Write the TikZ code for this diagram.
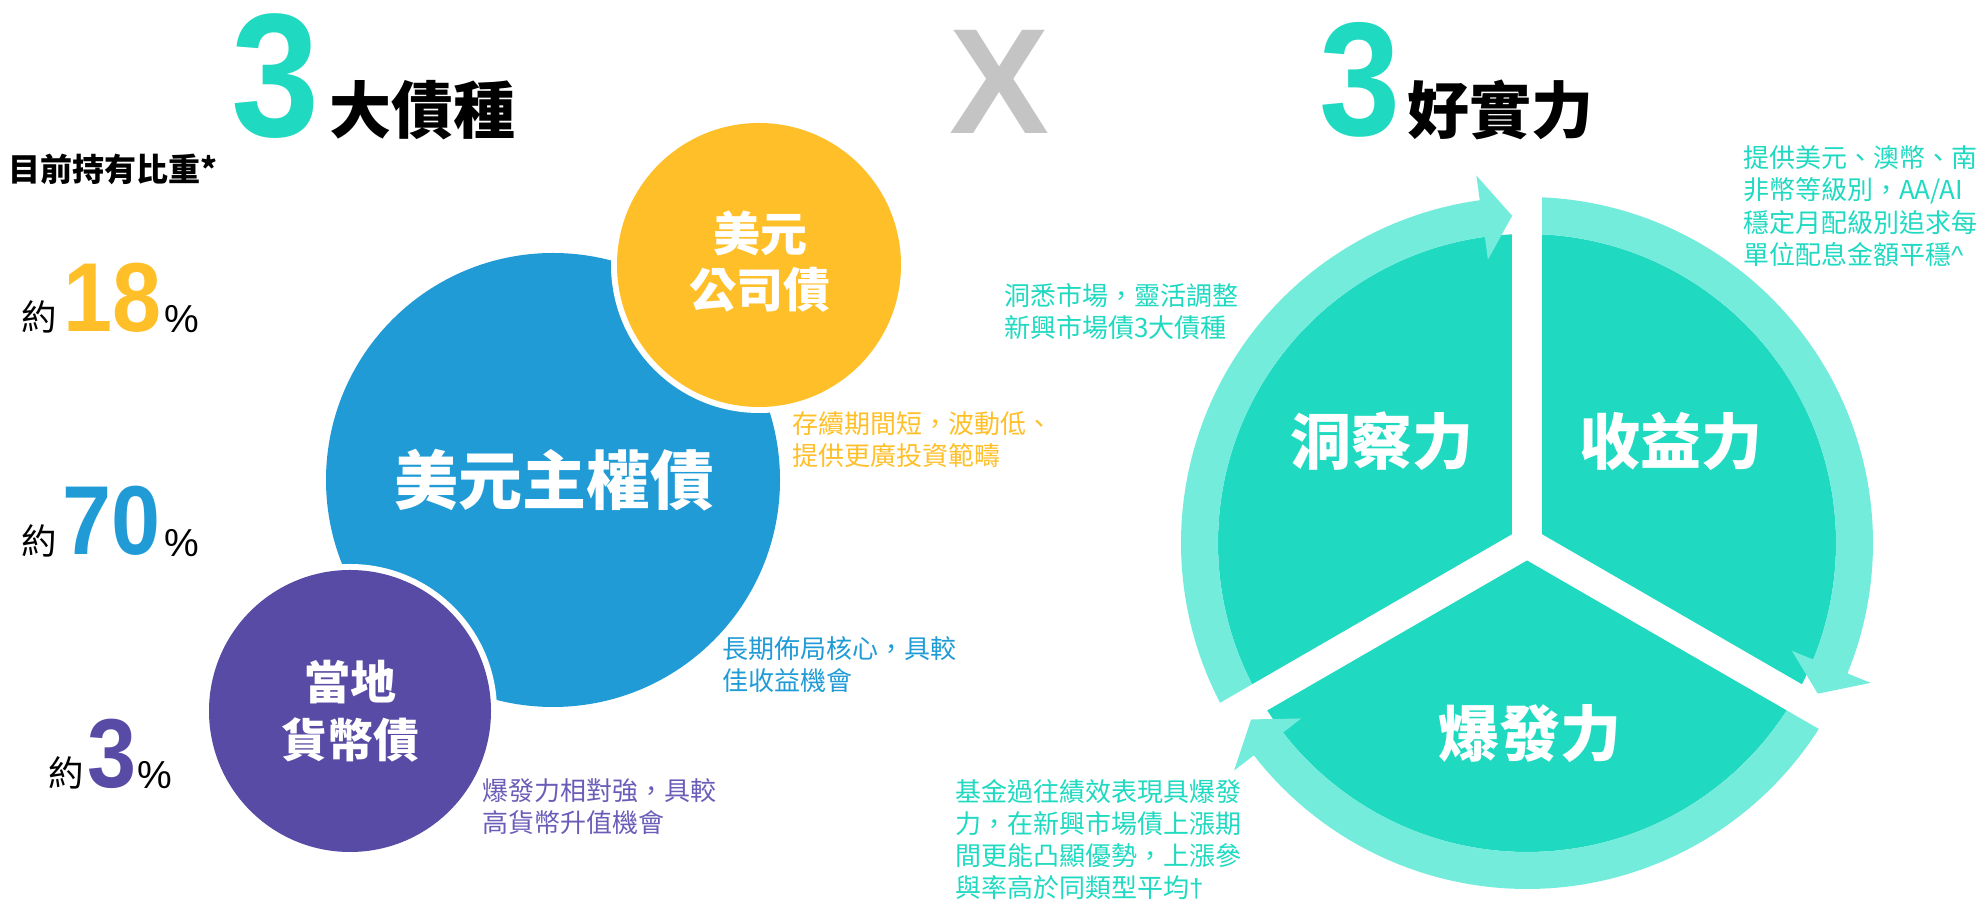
\documentclass[tikz,border=0pt]{standalone}
\usepackage{fontspec}
\setmainfont{Liberation Sans}
\newfontfamily\cjk[Script=CJK, Language=Chinese Traditional]{Noto Sans CJK TC}
\newfontfamily\numfont[FakeStretch=0.9]{Liberation Sans}
\definecolor{cblue}{HTML}{209BD6}
\definecolor{cyellow}{HTML}{FFBF29}
\definecolor{cpurple}{HTML}{584BA5}
\definecolor{tpurple}{HTML}{6A5DB8}
\definecolor{tealdark}{HTML}{1FD9C1}
\definecolor{teallight}{HTML}{74ECDC}
\definecolor{cgray}{HTML}{C4C4C4}

\begin{document}
\begin{tikzpicture}[x=0.5pt, y=0.5pt,
    txt/.style={inner sep=0pt, outer sep=0pt},
    desc/.style={txt, anchor=west, align=left, font=\cjk\fontsize{13}{16}\selectfont},
    head/.style={txt, font=\cjk\bfseries\fontsize{31}{31}\selectfont},
    bignum/.style={txt, anchor=center, text=tealdark},
    yue/.style={txt, font=\cjk\fontsize{17.75}{18}\selectfont},
    pnum/.style={txt, font=\numfont\bfseries\fontsize{49}{49}\selectfont},
    pct/.style={txt, font=\fontsize{19.5}{20}\selectfont},
    wlbl/.style={txt, text=white, align=center}]
\useasboundingbox (0,0) rectangle (1980,903);

% titles
\node[bignum, font=\numfont\bfseries\fontsize{88}{88}\selectfont] (threeL) at (276,827) {3};
\node[head] (kinds) at (422,793) {大債種};
\node[txt, text=cgray, font=\bfseries\fontsize{75}{75}\selectfont] (times) at (1000,821) {X};
\node[bignum, font=\numfont\bfseries\fontsize{81}{81}\selectfont] (threeR) at (1360,823) {3};
\node[head] (powers) at (1500,793) {好實力};

% holdings
\node[txt, anchor=west, font=\cjk\bfseries\fontsize{16}{16}\selectfont] (hold) at (9,734) {目前持有比重*};
\node[yue] (yueA) at (39,586) {約};
\node[pnum, text=cyellow] (pctA) at (113,605) {18};
\node[pct] (signA) at (182,584) {\%};
\node[yue] (yueB) at (39,362) {約};
\node[pnum, text=cblue] (pctB) at (112,382) {70};
\node[pct] (signB) at (182,360) {\%};
\node[yue] (yueC) at (66,130) {約};
\node[pnum, text=cpurple] (pctC) at (112,149) {3};
\node[pct] (signC) at (155,128) {\%};

% bond circles
\fill[cblue] (553,423) circle[radius=227];
\fill[white] (759,638) circle[radius=148];
\fill[cyellow] (759,638) circle[radius=142];
\fill[white] (350,192) circle[radius=147];
\fill[cpurple] (350,192) circle[radius=141];
\node[wlbl, font=\cjk\bfseries\fontsize{32}{32}\selectfont] (sov) at (554,423) {美元主權債};
\node[wlbl, font=\cjk\bfseries\fontsize{23.5}{28}\selectfont] (corp) at (760,641) {美元\\公司債};
\node[wlbl, font=\cjk\bfseries\fontsize{23}{29}\selectfont] (local) at (350,192) {當地\\貨幣債};
\node[desc, text=cyellow] (corpnote) at (792,463) {存續期間短，波動低、\\提供更廣投資範疇};
\node[desc, text=cblue] (sovnote) at (722,238) {長期佈局核心，具較\\佳收益機會};
\node[desc, text=tpurple] (localnote) at (482,96) {爆發力相對強，具較\\高貨幣升值機會};

% wheel
\begin{scope}[shift={(1527,360)}]
\fill[tealdark] (0,0) circle[radius=309];
\foreach \a/\b in {210/90, 90/-30, -30/-150}
{
    \pgfmathsetmacro{\bh}{\b+7.85}
    \pgfmathsetmacro{\bt}{\b+2.6}
    \fill[teallight] (\a:346) arc[start angle=\a, end angle=\bh, radius=346]
        -- (\bh:371) -- (\bt:327.5) -- (\bh:286) -- (\bh:309)
        arc[start angle=\bh, end angle=\a, radius=309] -- cycle;
}
\foreach \g in {90,210,330}
{
    \draw[white, line width=15pt] (0,0) -- (\g:362);
}
\end{scope}
\node[wlbl, font=\cjk\bfseries\fontsize{30.5}{31}\selectfont] (insight) at (1382,462) {洞察力};
\node[wlbl, font=\cjk\bfseries\fontsize{30.5}{31}\selectfont] (income) at (1671,462) {收益力};
\node[wlbl, font=\cjk\bfseries\fontsize{30.5}{31}\selectfont] (burst) at (1530,169) {爆發力};
\node[desc, text=tealdark] (insightnote) at (1004,591) {洞悉市場，靈活調整\\新興市場債3大債種};
\node[desc, text=tealdark, font=\cjk\fontsize{13}{16.15}\selectfont] (incomenote) at (1743,697) {提供美元、澳幣、南\\非幣等級別，AA/AI\\穩定月配級別追求每\\單位配息金額平穩{\rmfamily\textasciicircum}};
\node[desc, text=tealdark, font=\cjk\fontsize{13}{16}\selectfont] (burstnote) at (955,63) {基金過往績效表現具爆發\\力，在新興市場債上漲期\\間更能凸顯優勢，上漲參\\與率高於同類型平均{\rmfamily †}};
\end{tikzpicture}
\end{document}
